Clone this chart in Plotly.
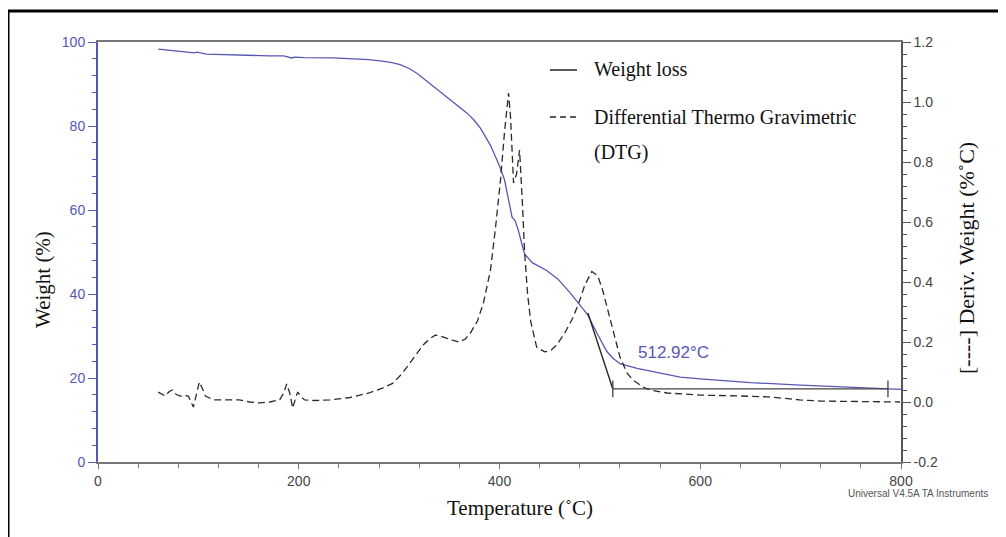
import plotly.graph_objects as go

# ---- data ----
temp_w = [60, 75, 89, 96, 99, 108, 130, 151, 170, 185, 193, 196, 205, 234, 250, 270, 285,
          293, 301, 310, 318, 326, 334, 342, 351, 360, 368, 375, 381, 391, 400, 405, 410,
          412.5, 415.5, 418.5, 422, 425, 433, 447, 458, 470, 483, 488, 497, 507, 513, 520,
          537, 560, 580, 600, 650, 700, 750, 800]
weight = [98.3, 98.0, 97.6, 97.4, 97.6, 97.1, 96.9, 96.7, 96.7, 96.7, 96.2, 96.4, 96.3,
          96.2, 96.0, 95.8, 95.4, 95.1, 94.6, 93.7, 92.5, 91.0, 89.4, 87.9, 86.2, 84.6,
          83.0, 81.3, 79.5, 75.4, 70.5, 67.2, 61.8, 58.3, 57.5, 55.4, 52.2, 49.5, 47.4,
          45.6, 43.6, 40.4, 36.5, 35.0, 30.7, 26.3, 24.7, 23.4, 22.3, 21.2, 20.2, 19.8,
          18.9, 18.3, 17.8, 17.3]

temp_d = [60, 64, 67, 71, 74, 78, 82, 86, 90, 95, 98, 101, 104, 107, 115, 128, 141, 151,
          161, 171, 181, 185, 188, 191, 194, 197, 199, 203, 206, 215, 231, 251, 270, 284,
          294, 303, 311, 318, 324, 330, 336, 341, 347, 354, 360, 366, 371, 378, 384, 391,
          396, 401, 405, 409, 411, 414, 417, 420, 423, 425, 428, 431, 437, 445, 451, 457,
          465, 473, 479, 485, 492, 498, 503, 507, 510, 517, 520, 527, 533, 543, 550, 567,
          600, 640, 667, 685, 699, 720, 760, 799]
dtg = [0.033, 0.025, 0.02, 0.035, 0.04, 0.025, 0.02, 0.022, 0.02, -0.017, 0.03, 0.067,
       0.045, 0.02, 0.007, 0.008, 0.007, 0.0, -0.003, 0.0, 0.007, 0.03, 0.06, 0.03, -0.02,
       0.015, 0.033, 0.015, 0.007, 0.005, 0.007, 0.015, 0.03, 0.047, 0.063, 0.095, 0.13,
       0.16, 0.19, 0.21, 0.223, 0.22, 0.212, 0.205, 0.2, 0.21, 0.23, 0.27, 0.33, 0.44,
       0.58, 0.74, 0.9, 1.03, 0.95, 0.73, 0.76, 0.84, 0.65, 0.5, 0.36, 0.27, 0.183, 0.167,
       0.172, 0.19, 0.23, 0.28, 0.33, 0.39, 0.435, 0.42, 0.37, 0.317, 0.28, 0.183, 0.15,
       0.097, 0.073, 0.05, 0.04, 0.03, 0.023, 0.02, 0.017, 0.012, 0.007, 0.003, 0.001, 0.0]

tangent_t = [488, 512.92]
tangent_w = [35.5, 17.4]
base_t = [512.92, 787]
base_w = [17.4, 17.4]
onset_label = "512.92°C"

x_ticks = [0, 200, 400, 600, 800]
y_ticks = [0, 20, 40, 60, 80, 100]
y2_ticks = [-0.2, 0.0, 0.2, 0.4, 0.6, 0.8, 1.0, 1.2]

BLUE = "#5757b5"
SERIF = "Liberation Serif, Times New Roman, serif"
SANS = "Liberation Sans, Arial, sans-serif"

fig = go.Figure()
fig.add_trace(go.Scatter(x=temp_d, y=dtg, yaxis="y2", mode="lines",
                         line=dict(color="#2a2a2a", width=1.3, dash="7px,4px"),
                         showlegend=False))
fig.add_trace(go.Scatter(x=temp_w, y=weight, mode="lines",
                         line=dict(color=BLUE, width=1.3), showlegend=False))
fig.add_trace(go.Scatter(x=tangent_t, y=tangent_w, mode="lines",
                         line=dict(color="#222", width=1.4), showlegend=False))
fig.add_trace(go.Scatter(x=base_t, y=base_w, mode="lines+markers",
                         line=dict(color="#444", width=1.3),
                         marker=dict(symbol="line-ns", size=12,
                                     line=dict(color="#444", width=1.3)),
                         showlegend=False))

# reference pixel -> paper fraction (plot area in reference: x 98..901, y 42..462)
def px(x):
    return (x - 98) / 803

def py(y):
    return (462 - y) / 420

# page body adds an 8px offset, so the figure is 8px smaller and margins shifted
fig.update_layout(
    width=998, height=529,
    margin=dict(l=90, r=105, t=34, b=75),
    paper_bgcolor="white", plot_bgcolor="white",
    xaxis=dict(range=[0, 800], tickvals=x_ticks, ticks="outside", ticklen=5,
               tickcolor="#777", showgrid=False, zeroline=False,
               showline=True, linecolor="#777", linewidth=1.5, mirror=True,
               tickfont=dict(family=SANS, size=14, color="#444"),
               minor=dict(dtick=40, ticks="outside", ticklen=4, tickcolor="#777")),
    yaxis=dict(range=[0, 100], tickvals=y_ticks, ticks="outside", ticklen=8,
               tickcolor=BLUE, showgrid=False, zeroline=False,
               showline=True, linecolor=BLUE, linewidth=2,
               tickfont=dict(family=SANS, size=14, color=BLUE),
               minor=dict(dtick=4, ticks="outside", ticklen=4, tickcolor=BLUE)),
    yaxis2=dict(range=[-0.2, 1.2], tickvals=y2_ticks, ticktext=[f"{v:.1f}" for v in y2_ticks],
                overlaying="y", side="right", ticks="outside", ticklen=8,
                tickcolor="#555", showgrid=False, zeroline=False,
                showline=True, linecolor="#555", linewidth=1.5,
                tickfont=dict(family=SANS, size=14, color="#444"),
                minor=dict(dtick=0.04, ticks="outside", ticklen=4, tickcolor="#555")),
    shapes=[
        dict(type="rect", xref="paper", yref="paper", x0=px(8), x1=px(1015),
             y0=py(560), y1=py(11), line=dict(color="black", width=3)),
        dict(type="line", xref="paper", yref="paper", x0=px(550), x1=px(577),
             y0=py(70), y1=py(70), line=dict(color="#222", width=1.5)),
        dict(type="line", xref="paper", yref="paper", x0=px(550), x1=px(578),
             y0=py(117), y1=py(117), line=dict(color="#222", width=1.5, dash="6px,4px")),
    ],
    annotations=[
        dict(text="Weight loss", xref="paper", yref="paper", x=px(592), y=py(70),
             xanchor="left", yanchor="middle", showarrow=False,
             font=dict(family=SERIF, size=20, color="#111")),
        dict(text="Differential Thermo Gravimetric", xref="paper", yref="paper",
             x=px(592), y=py(117), xanchor="left", yanchor="middle", showarrow=False,
             font=dict(family=SERIF, size=20, color="#111")),
        dict(text="(DTG)", xref="paper", yref="paper", x=px(592), y=py(152),
             xanchor="left", yanchor="middle", showarrow=False,
             font=dict(family=SERIF, size=20, color="#111")),
        dict(text=onset_label, xref="paper", yref="paper", x=px(636), y=py(352),
             xanchor="left", yanchor="middle", showarrow=False,
             font=dict(family=SANS, size=17, color=BLUE)),
        dict(text="Universal V4.5A TA Instruments", xref="paper", yref="paper",
             x=px(990), y=py(493), xanchor="right", yanchor="middle", showarrow=False,
             font=dict(family=SANS, size=10, color="#555")),
        dict(text="Weight (%)", xref="paper", yref="paper", x=px(43), y=py(280),
             xanchor="center", yanchor="middle", textangle=-90, showarrow=False,
             font=dict(family=SERIF, size=21, color="#111")),
        dict(text="Temperature (˚C)", xref="paper", yref="paper", x=px(520), y=py(508),
             xanchor="center", yanchor="middle", showarrow=False,
             font=dict(family=SERIF, size=21, color="#111")),
        dict(text="[----] Deriv. Weight (%˚C)", xref="paper", yref="paper",
             x=px(967), y=py(258), xanchor="center", yanchor="middle", textangle=-90,
             showarrow=False, font=dict(family=SERIF, size=22, color="#111")),
    ],
)

fig.write_html("out.html")
